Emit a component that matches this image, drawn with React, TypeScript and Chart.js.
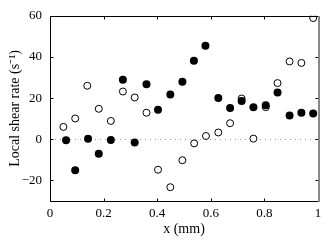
import React, { useEffect, useRef } from "react";
import { Chart, registerables } from "chart.js";

Chart.register(...registerables);

const filledX = [0.06, 0.094, 0.142, 0.182, 0.227, 0.272, 0.316, 0.36, 0.403, 0.449, 0.494, 0.537, 0.58, 0.628, 0.672, 0.715, 0.759, 0.805, 0.849, 0.894, 0.938, 0.982];
const filledY = [-0.5, -15, 0.2, -7, -0.3, 28.9, -1.6, 26.7, 14.4, 21.8, 27.9, 38.2, 45.4, 20.1, 15.2, 18.6, 15.6, 16.5, 22.7, 11.6, 12.9, 12.5];
const openX = [0.05, 0.094, 0.139, 0.182, 0.227, 0.272, 0.316, 0.36, 0.403, 0.449, 0.494, 0.538, 0.582, 0.628, 0.672, 0.715, 0.759, 0.805, 0.849, 0.894, 0.938, 0.982];
const openY = [6, 10.1, 26, 14.8, 8.9, 23.2, 20.3, 12.9, -14.8, -23.3, -10.2, -2, 1.6, 3.3, 7.8, 19.8, 0.3, 15.6, 27.3, 37.8, 37.1, 58.9];
const xTicks = [0, 0.2, 0.4, 0.6, 0.8, 1];
const yTicks = [-20, 0, 20, 40, 60];

const FONT = "'Liberation Serif', 'Times New Roman', serif";

const framePlugin = {
  id: "frame",
  beforeDatasetsDraw(chart: any) {
    const { ctx, chartArea: a, scales } = chart;
    const y0 = scales.y.getPixelForValue(0);
    ctx.save();
    ctx.strokeStyle = "#999";
    ctx.lineWidth = 1;
    ctx.setLineDash([1, 4]);
    ctx.beginPath();
    ctx.moveTo(a.left, Math.round(y0) + 0.5);
    ctx.lineTo(a.right, Math.round(y0) + 0.5);
    ctx.stroke();
    ctx.restore();
  },
  afterDraw(chart: any) {
    const { ctx, chartArea: a, scales } = chart;
    ctx.save();
    ctx.strokeStyle = "#000";
    ctx.lineWidth = 1;
    const L = Math.round(a.left) + 0.5;
    const R = Math.round(a.right) + 0.5;
    const T = Math.round(a.top) + 0.5;
    const B = Math.round(a.bottom) + 0.5;
    ctx.beginPath();
    ctx.moveTo(R, T);
    ctx.lineTo(L, T);
    ctx.lineTo(L, B);
    ctx.lineTo(R, B);
    ctx.stroke();
    ctx.beginPath();
    xTicks.forEach((v) => {
      const px = Math.round(scales.x.getPixelForValue(v)) + 0.5;
      ctx.moveTo(px, T);
      ctx.lineTo(px, T + 3);
      ctx.moveTo(px, B);
      ctx.lineTo(px, B - 3);
    });
    yTicks.forEach((v) => {
      const py = Math.round(scales.y.getPixelForValue(v)) + 0.5;
      ctx.moveTo(L, py);
      ctx.lineTo(L + 3, py);
      ctx.moveTo(R, py);
      ctx.lineTo(R - 3, py);
    });
    ctx.stroke();
    ctx.strokeStyle = "#888";
    ctx.lineWidth = 2;
    ctx.beginPath();
    ctx.moveTo(R + 0.5, T - 0.5);
    ctx.lineTo(R + 0.5, B + 0.5);
    ctx.stroke();
    ctx.restore();
  },
};

export default function App() {
  const ref = useRef<HTMLCanvasElement>(null);
  useEffect(() => {
    document.body.style.margin = "0";
    const chart = new Chart(ref.current!, {
      type: "scatter",
      data: {
        datasets: [
          {
            data: filledX.map((x, i) => ({ x, y: filledY[i] })),
            backgroundColor: "#000",
            borderColor: "#000",
            borderWidth: 0,
            pointRadius: 4,
          },
          {
            data: openX.map((x, i) => ({ x, y: openY[i] })),
            backgroundColor: "#fff",
            borderColor: "#000",
            borderWidth: 1,
            pointRadius: 3.5,
          },
        ],
      },
      options: {
        animation: false,
        responsive: false,
        layout: { padding: { top: 13, right: 10, left: 0, bottom: 0 } },
        plugins: { legend: { display: false }, tooltip: { enabled: false } },
        scales: {
          x: {
            type: "linear",
            min: 0,
            max: 1,
            grid: { display: false, drawTicks: false },
            border: { display: false },
            afterBuildTicks: (s: any) => {
              s.ticks = xTicks.map((v) => ({ value: v }));
            },
            afterFit: (s: any) => {
              s.height = 40;
            },
            ticks: {
              padding: 5,
              color: "#000",
              font: { family: FONT, size: 13 },
              maxRotation: 0,
              callback: (v: any) => String(v),
            },
            title: {
              display: true,
              text: "x (mm)",
              color: "#000",
              font: { family: FONT, size: 14 },
              padding: { top: 0, bottom: 3.5 },
            },
          },
          y: {
            type: "linear",
            min: -30,
            max: 60,
            grid: { display: false, drawTicks: false },
            border: { display: false },
            afterBuildTicks: (s: any) => {
              s.ticks = yTicks.map((v) => ({ value: v }));
            },
            afterFit: (s: any) => {
              s.width = 50;
            },
            ticks: {
              padding: 8,
              color: "#000",
              font: { family: FONT, size: 13 },
              callback: (v: any) => (Number(v) < 0 ? "\u2212" + Math.abs(Number(v)) : String(v)),
            },
            title: {
              display: true,
              text: "Local shear rate (s\u207B\u00B9)",
              color: "#000",
              font: { family: FONT, size: 14 },
              padding: { top: 6.5, bottom: 0 },
            },
          },
        },
      },
      plugins: [framePlugin],
    });
    return () => chart.destroy();
  }, []);
  return (
    <div style={{ width: 328, height: 241 }}>
      <canvas ref={ref} width={328} height={241} style={{ width: 328, height: 241, display: "block" }} />
    </div>
  );
}
